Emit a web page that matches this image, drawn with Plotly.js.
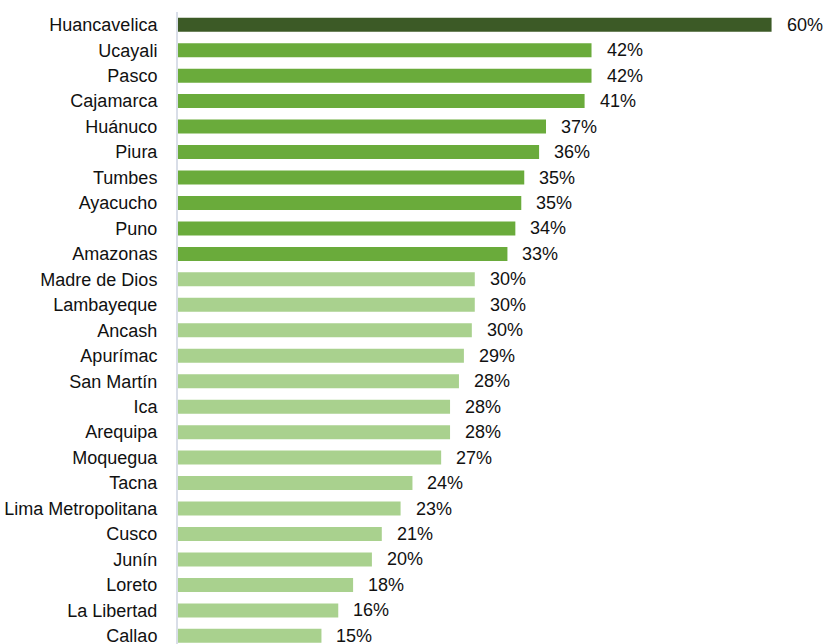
<!DOCTYPE html>
<html>
<head>
<meta charset="utf-8">
<script src="https://cdn.plot.ly/plotly-3.0.1.min.js"></script>
<style>html,body{margin:0;padding:0;background:#fff;}#chart{width:824px;height:644px;}</style>
</head>
<body>
<div id="chart"></div>
<script>
const regions = ["Huancavelica","Ucayali","Pasco","Cajamarca","Huánuco","Piura","Tumbes","Ayacucho","Puno","Amazonas","Madre de Dios","Lambayeque","Ancash","Apurímac","San Martín","Ica","Arequipa","Moquegua","Tacna","Lima Metropolitana","Cusco","Junín","Loreto","La Libertad","Callao"];
const values = [60.0,41.8,41.8,41.1,37.2,36.5,35.0,34.7,34.1,33.3,30.0,30.0,29.7,28.9,28.4,27.5,27.5,26.6,23.7,22.5,20.6,19.6,17.7,16.2,14.5];
const labels = ["60%","42%","42%","41%","37%","36%","35%","35%","34%","33%","30%","30%","30%","29%","28%","28%","28%","27%","24%","23%","21%","20%","18%","16%","15%"];
const groups = ["top","mid","mid","mid","mid","mid","mid","mid","mid","mid","low","low","low","low","low","low","low","low","low","low","low","low","low","low","low"];

const groupColors = {top:"#3c5a26", mid:"#6aab3b", low:"#a9d18e"};
const font = "'Liberation Sans Narrow','Arial Narrow','Liberation Sans',Arial,sans-serif";

const trace = {
  type: "bar",
  orientation: "h",
  x: values,
  y: regions,
  marker: {color: groups.map(g => groupColors[g])},
  width: 0.55,
  hoverinfo: "none"
};

const annotations = regions.map((r, i) => ({
  x: values[i], y: r, xref: "x", yref: "y",
  text: labels[i], showarrow: false,
  xanchor: "left", yanchor: "middle", xshift: 13,
  font: {family: font, size: 18, color: "#111"}
}));

const layout = {
  width: 824, height: 644,
  margin: {l: 178, r: 0, t: 12, b: 0, pad: 0},
  paper_bgcolor: "#fff", plot_bgcolor: "#fff",
  showlegend: false,
  xaxis: {range: [0, 65.3], visible: false, fixedrange: true},
  yaxis: {
    type: "category",
    range: [24.32, -0.5],
    showgrid: false, zeroline: false,
    showline: true, linecolor: "#d9dee8", linewidth: 2,
    ticks: "", ticklabelstandoff: 15,
    tickfont: {family: font, size: 18, color: "#111"},
    fixedrange: true
  },
  annotations: annotations
};

Plotly.newPlot("chart", [trace], layout, {displayModeBar: false, staticPlot: true});
</script>
</body>
</html>
